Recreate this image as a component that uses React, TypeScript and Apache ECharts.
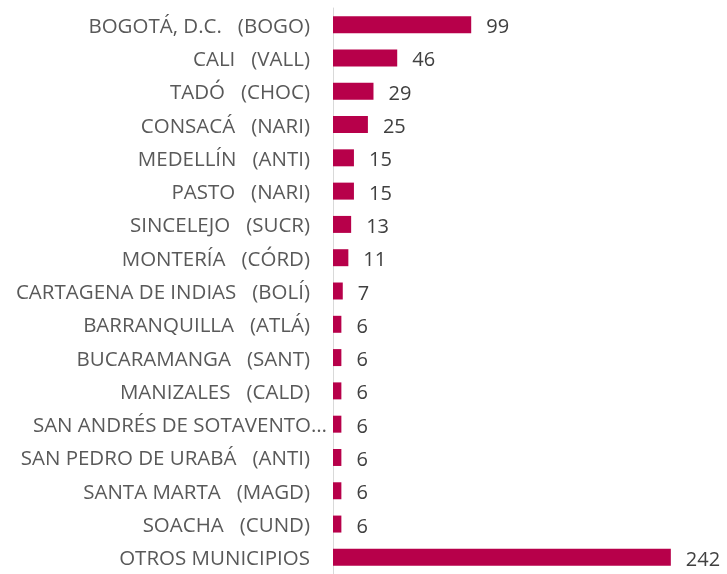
import React, { useEffect, useRef } from "react";
import * as echarts from "echarts";

const categories = [
  "BOGOTÁ, D.C.   (BOGO)",
  "CALI   (VALL)",
  "TADÓ   (CHOC)",
  "CONSACÁ   (NARI)",
  "MEDELLÍN   (ANTI)",
  "PASTO   (NARI)",
  "SINCELEJO   (SUCR)",
  "MONTERÍA   (CÓRD)",
  "CARTAGENA DE INDIAS   (BOLÍ)",
  "BARRANQUILLA   (ATLÁ)",
  "BUCARAMANGA   (SANT)",
  "MANIZALES   (CALD)",
  "SAN ANDRÉS DE SOTAVENTO…",
  "SAN PEDRO DE URABÁ   (ANTI)",
  "SANTA MARTA   (MAGD)",
  "SOACHA   (CUND)",
  "OTROS MUNICIPIOS",
];
const values = [99, 46, 29, 25, 15, 15, 13, 11, 7, 6, 6, 6, 6, 6, 6, 6, 242];

export default function App() {
  const ref = useRef<HTMLDivElement>(null);
  useEffect(() => {
    if (!ref.current) return;
    const chart = echarts.init(ref.current, undefined, { renderer: "svg" });
    chart.setOption({
      animation: false,
      grid: { left: 333, top: 8, right: 45, bottom: -2, containLabel: false },
      xAxis: {
        type: "value",
        min: 0,
        max: 250,
        show: false,
      },
      yAxis: {
        type: "category",
        inverse: true,
        data: categories.map((c) =>
          c.endsWith("…") ? { value: c, textStyle: { padding: [0, -17, 0, 0] } } : c
        ),
        axisLine: { show: true, lineStyle: { color: "#d9d9d9", width: 1 } },
        axisTick: { show: false },
        axisLabel: {
          margin: 23,
          color: "#595959",
          fontSize: 20.5,
          fontFamily: "Open Sans",
        },
      },
      series: [
        {
          type: "bar",
          data: values,
          barWidth: "51%",
          itemStyle: { color: "#B7004A" },
          label: {
            show: true,
            position: "right",
            distance: 15,
            offset: [0, 1],
            color: "#404040",
            fontSize: 20,
            fontFamily: "Open Sans",
          },
        },
      ],
    });
    return () => chart.dispose();
  }, []);
  return (
    <div
      ref={ref}
      style={{ position: "fixed", left: 0, top: 0, width: 727, height: 574 }}
    />
  );
}
